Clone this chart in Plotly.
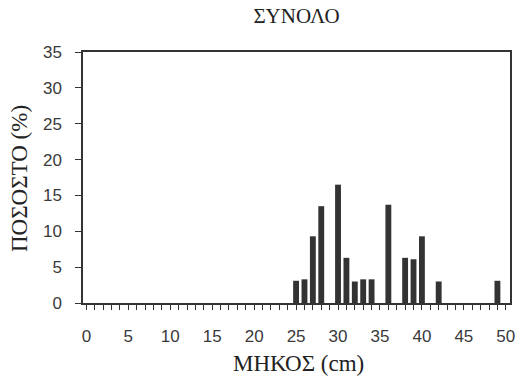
import plotly.graph_objects as go

length_cm = [25, 26, 27, 28, 30, 31, 32, 33, 34, 36, 38, 39, 40, 42, 49]
percent = [3.1, 3.3, 9.3, 13.5, 16.5, 6.3, 3.0, 3.3, 3.3, 13.7, 6.3, 6.1, 9.3, 3.0, 3.1]

title_text = "ΣΥΝΟΛΟ"
x_title = "ΜΗΚΟΣ (cm)"
y_title = "ΠΟΣΟΣΤΟ (%)"

W, H = 518, 389
L, R, T, B = 83, 518 - 510, 52, 389 - 303
pw, ph = W - L - R, H - T - B

def px_x(page_x):
    return (page_x - L) / pw

def px_y(page_y):
    return (T + ph - page_y) / ph

serif = "Liberation Serif, Times New Roman, serif"
tickfont = dict(family="Liberation Sans Narrow, Arial Narrow, Liberation Sans, sans-serif", size=17, color="#3a3a3a")

fig = go.Figure(go.Bar(x=length_cm, y=percent, width=0.7,
                       marker=dict(color="#333333", line=dict(width=0))))

fig.update_layout(
    width=W, height=H,
    margin=dict(l=L, r=R, t=T, b=B),
    paper_bgcolor="white", plot_bgcolor="white",
    showlegend=False,
    title=dict(text=title_text, x=(L + W - R) / 2 / W, xanchor="center", y=1 - 16 / H, yanchor="middle",
               pad=dict(t=0, b=0), font=dict(family=serif, size=21, color="#222")),
    annotations=[
        dict(text=x_title, xref="paper", yref="paper", x=px_x(298), y=px_y(363),
             xanchor="center", yanchor="middle", showarrow=False,
             font=dict(family=serif, size=23, color="#222")),
        dict(text=y_title, xref="paper", yref="paper", x=px_x(19), y=px_y(179),
             xanchor="center", yanchor="middle", showarrow=False, textangle=-90,
             font=dict(family=serif, size=23, color="#222")),
    ],
)
fig.update_xaxes(
    range=[-0.4, 50.5], dtick=5, tick0=0, ticks="outside", ticklen=5, tickcolor="#333",
    minor=dict(dtick=1, tick0=0, ticks="outside", ticklen=5, tickcolor="#333"),
    showline=True, linecolor="#333", linewidth=1.5, mirror=True, showgrid=False, zeroline=False,
    tickfont=tickfont, automargin=False, ticklabelstandoff=12,
)
fig.update_yaxes(
    range=[0, 35], dtick=5, ticks="outside", ticklen=6, tickcolor="#333",
    showline=True, linecolor="#333", linewidth=1.5, mirror=True, showgrid=False, zeroline=False,
    tickfont=tickfont, automargin=False, ticklabelstandoff=10,
)

fig.write_html("out.html", config={"displayModeBar": False},
               post_script="document.body.style.margin='0';document.body.style.overflow='hidden';")
